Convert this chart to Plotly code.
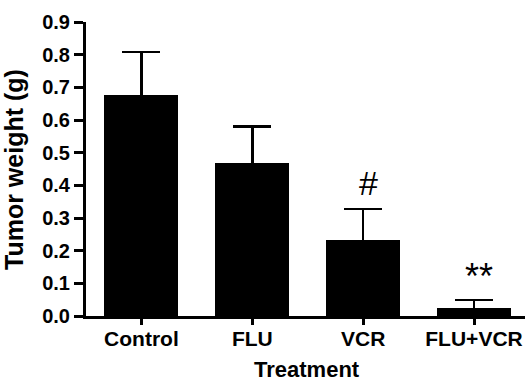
import plotly.graph_objects as go

categories = ["Control", "FLU", "VCR", "FLU+VCR"]
means = [0.678, 0.467, 0.232, 0.024]
errors = [0.130, 0.113, 0.096, 0.025]
y_ticks = [0.0, 0.1, 0.2, 0.3, 0.4, 0.5, 0.6, 0.7, 0.8, 0.9]
marks = ["", "", "#", "**"]
mark_y = [0, 0, 0.406, 0.12]
mark_size = [0, 0, 34, 36]
x_title = "Treatment"
y_title = "Tumor weight (g)"

FONT = "Liberation Sans, Arial, sans-serif"
L, R, T, B = 86, 0, 22, 67
W, H = 525, 383
PW, PH = W - L - R, H - T - B

fig = go.Figure()
fig.add_trace(go.Bar(
    x=list(range(len(categories))),
    y=means,
    width=0.667,
    marker=dict(color="#000000", line=dict(width=0)),
    error_y=dict(type="data", array=errors, symmetric=True,
                 color="#000000", thickness=2.5, width=19),
    showlegend=False,
))

for i, (m, yv, s) in enumerate(zip(marks, mark_y, mark_size)):
    if m:
        fig.add_annotation(x=i, y=yv, text=m, showarrow=False, xshift=5,
                           font=dict(family=FONT, size=s, color="#000000"),
                           xref="x", yref="y")

fig.add_annotation(text=x_title, xref="paper", yref="paper",
                   x=(307 - L) / PW, y=(H - B - 369) / PH,
                   showarrow=False, xanchor="center", yanchor="middle", borderpad=0,
                   font=dict(family=FONT, size=22, color="#000000", weight="bold"))
fig.add_annotation(text=y_title, xref="paper", yref="paper",
                   x=(14 - L) / PW, y=(H - B - 170) / PH, textangle=-90,
                   showarrow=False, xanchor="center", yanchor="middle",
                   font=dict(family=FONT, size=25, color="#000000", weight="bold"))

fig.update_layout(
    width=W, height=H,
    margin=dict(l=L, r=R, t=T, b=B),
    paper_bgcolor="white", plot_bgcolor="white",
    bargap=0,
)
fig.update_xaxes(
    range=[-0.5, 3.46], automargin=False, ticklabeloverflow="allow",
    ticklabelstandoff=-4,
    tickmode="array", tickvals=list(range(len(categories))), ticktext=categories,
    tickfont=dict(family=FONT, size=21, color="#000000", weight="bold"),
    ticks="outside", ticklen=6, tickwidth=2.5, tickcolor="#000000",
    showline=True, linecolor="#000000", linewidth=3,
    showgrid=False, zeroline=False,
)
fig.update_yaxes(
    range=[0, 0.9], automargin=False, ticklabeloverflow="allow",
    tickmode="array", tickvals=y_ticks, ticktext=[f"{v:.1f}" for v in y_ticks],
    tickfont=dict(family=FONT, size=20, color="#000000", weight="bold"),
    ticks="outside", ticklen=9, tickwidth=2.5, tickcolor="#000000",
    showline=True, linecolor="#000000", linewidth=3,
    showgrid=False, zeroline=False,
)

fig.write_html("out.html", config={"displayModeBar": False},
               post_script="document.body.style.margin='0';document.body.style.overflow='hidden';")
